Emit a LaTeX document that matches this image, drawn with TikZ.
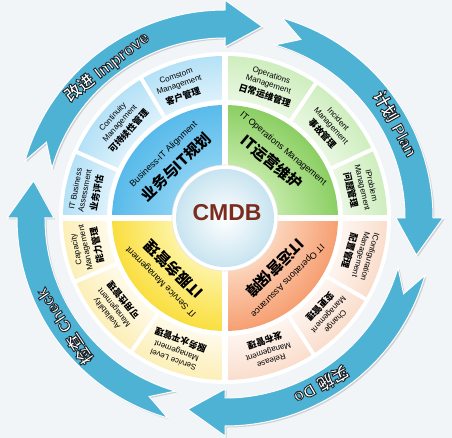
\documentclass[tikz,border=0pt]{standalone}
\usepackage{fontspec}
\setmainfont{Liberation Sans}
\newfontfamily\cjk{Noto Sans CJK SC}
\usetikzlibrary{shadows}

\definecolor{pagebg}{RGB}{242,245,248}
\definecolor{pdcablue}{RGB}{78,178,212}
\definecolor{cmdbred}{RGB}{122,44,30}
\definecolor{circlein}{RGB}{200,228,240}
% quarter colours: inner / outer
\definecolor{tlin}{RGB}{140,210,243}
\definecolor{tlout}{RGB}{88,186,234}
\definecolor{trin}{RGB}{196,234,168}
\definecolor{trout}{RGB}{138,206,98}
\definecolor{brin}{RGB}{252,214,190}
\definecolor{brout}{RGB}{246,158,112}
\definecolor{blin}{RGB}{253,244,168}
\definecolor{blout}{RGB}{250,222,62}
% small segments
\definecolor{tlsub}{RGB}{178,224,246}
\definecolor{trsub}{RGB}{205,237,188}
\definecolor{brsub}{RGB}{250,220,202}
\definecolor{blsub}{RGB}{252,238,180}

\colorlet{qin}{white}
\colorlet{qout}{white}
\pgfdeclareradialshading[qin,qout]{quadshade}{\pgfpointorigin}{color(0bp)=(qin); color(11bp)=(qin); color(25bp)=(qout); color(50bp)=(qout)}
\pgfdeclareradialshading[qin,qout]{ringshade}{\pgfpointorigin}{color(0bp)=(qin); color(17.9bp)=(qin); color(25bp)=(qout); color(50bp)=(qout)}

\newcommand\zhsmall[1]{{\cjk\bfseries\fontsize{9}{10}\selectfont #1}}
\newcommand\zhbig[1]{{\cjk\bfseries\fontsize{15}{17}\selectfont #1}}
\newcommand\zhpdca[1]{{\cjk\bfseries #1}}
\newcommand\outlinetext[1]{\special{pdf:literal direct 2 Tr 0.9 w 0.12 0.14 0.16 RG}#1\special{pdf:literal direct 0 Tr}}

\begin{document}
\begin{tikzpicture}[x=1pt, y=1pt,
% common options for the text in the small segments:
sublabel/.style = {align=center, inner sep=0, font=\fontsize{8}{9.5}\selectfont},
% common options for the text in the four quarters:
quarterlabel/.style = {align=center, inner sep=0, font=\fontsize{9}{11}\selectfont},
% common options for the PDCA arrows:
pdcaarrow/.style = {fill=pdcablue, draw=white, line width=1,
            drop shadow={shadow xshift=1.5pt, shadow yshift=-1.5pt, opacity=0.3}},
pdcalabel/.style = {inner sep=0, text=white, font=\bfseries\fontsize{16.5}{18}\selectfont},
gapline/.style = {draw=white, line cap=butt}]
\useasboundingbox (-225,-220) rectangle (227,218);
\fill[pagebg] (-225,-220) rectangle (227,218);

% PDCA arrows
\draw[pdcaarrow] (74:208) arc[start angle=74, end angle=0, radius=208] -- (0:218) -- (-11:195) -- (0:171) -- (0:180) arc[start angle=0, end angle=74, radius=180] -- (67:194) -- cycle;
\draw[pdcaarrow] (-16:208) arc[start angle=-16, end angle=-90, radius=208] -- (-90:218) -- (-101:195) -- (-90:171) -- (-90:180) arc[start angle=-90, end angle=-16, radius=180] -- (-23:194) -- cycle;
\draw[pdcaarrow] (254:208) arc[start angle=254, end angle=180, radius=208] -- (180:218) -- (169:195) -- (180:171) -- (180:180) arc[start angle=180, end angle=254, radius=180] -- (247:194) -- cycle;
\draw[pdcaarrow] (164:208) arc[start angle=164, end angle=90, radius=208] -- (90:218) -- (79:195) -- (90:171) -- (90:180) arc[start angle=90, end angle=164, radius=180] -- (157:194) -- cycle;

\node[pdcalabel, rotate=38] (improve) at (128:192) {\outlinetext{\zhpdca{改进} Improve}};
\node[pdcalabel, rotate=-61] (plan) at (29:195) {\outlinetext{\zhpdca{计划} Plan}};
\node[pdcalabel, rotate=-150] (do) at (-60:193) {\outlinetext{\zhpdca{实施} Do}};
\node[pdcalabel, rotate=124] (check) at (214:194) {\outlinetext{\zhpdca{检查} Check}};

\fill[white] (0,0) circle (166);

% four quarters
\begin{scope}
\clip (0,0) -- (90:113) arc[start angle=90, end angle=180, radius=113] -- cycle;
\colorlet{qin}{tlin}\colorlet{qout}{tlout}
\shade[shading=quadshade] (0,0) circle (114);
\end{scope}
\begin{scope}
\clip (0,0) -- (0:113) arc[start angle=0, end angle=90, radius=113] -- cycle;
\colorlet{qin}{trin}\colorlet{qout}{trout}
\shade[shading=quadshade] (0,0) circle (114);
\end{scope}
\begin{scope}
\clip (0,0) -- (-90:113) arc[start angle=-90, end angle=0, radius=113] -- cycle;
\colorlet{qin}{brin}\colorlet{qout}{brout}
\shade[shading=quadshade] (0,0) circle (114);
\end{scope}
\begin{scope}
\clip (0,0) -- (180:113) arc[start angle=180, end angle=270, radius=113] -- cycle;
\colorlet{qin}{blin}\colorlet{qout}{blout}
\shade[shading=quadshade] (0,0) circle (114);
\end{scope}

% outer ring of small segments
\begin{scope}
\clip (90:118) -- (90:162) arc[start angle=90, end angle=180, radius=162] -- (180:118) arc[start angle=180, end angle=90, radius=118] -- cycle;
\colorlet{qin}{tlsub!45!white}\colorlet{qout}{tlsub}
\shade[shading=ringshade] (0,0) circle (165);
\end{scope}
\begin{scope}
\clip (0:118) -- (0:162) arc[start angle=0, end angle=90, radius=162] -- (90:118) arc[start angle=90, end angle=0, radius=118] -- cycle;
\colorlet{qin}{trsub!45!white}\colorlet{qout}{trsub}
\shade[shading=ringshade] (0,0) circle (165);
\end{scope}
\begin{scope}
\clip (-90:118) -- (-90:162) arc[start angle=-90, end angle=0, radius=162] -- (0:118) arc[start angle=0, end angle=-90, radius=118] -- cycle;
\colorlet{qin}{brsub!30!white}\colorlet{qout}{brsub}
\shade[shading=ringshade] (0,0) circle (165);
\end{scope}
\begin{scope}
\clip (180:118) -- (180:162) arc[start angle=180, end angle=270, radius=162] -- (270:118) arc[start angle=270, end angle=180, radius=118] -- cycle;
\colorlet{qin}{blsub!30!white}\colorlet{qout}{blsub}
\shade[shading=ringshade] (0,0) circle (165);
\end{scope}

% white gaps
\draw[gapline, line width=6] (-166,0) -- (166,0) (0,-166) -- (0,166);
\draw[gapline, line width=4] (121:116) -- (121:164) (156:116) -- (156:164)
  (56:116) -- (56:164) (25:116) -- (25:164) (-30:116) -- (-30:164)
  (-57:116) -- (-57:164) (203:116) -- (203:164) (235:116) -- (235:164);

% centre
\fill[white] (0,0) circle (53);
\draw[black!10, line width=0.6] (0,0) circle (53);
\shade[inner color=white, outer color=circlein] (0,0) circle (49);
\node[font=\bfseries\fontsize{23}{23}\selectfont, text=cmdbred] (cmdb) at (2,5) {CMDB};

% quarter labels
\node[quarterlabel, rotate=44] (alignment) at (134:78) {Business-IT Alignment\\[5pt]\zhbig{业务与IT规划}};
\node[quarterlabel, rotate=-40] (itops) at (50:80) {IT Operations Management\\[5pt]\zhbig{IT运营维护}};
\node[quarterlabel, rotate=-135] (assurance) at (-45:78) {IT Operations Assurance\\[5pt]\zhbig{IT运营保障}};
\node[quarterlabel, rotate=135] (itservice) at (225:80) {IT Service Management\\[5pt]\zhbig{IT服务管理}};

% segment labels
\node[sublabel, rotate=19] (custom) at (109:139) {Comstom\\Management\\[3pt]\zhsmall{客户管理}};
\node[sublabel, rotate=48] (continuity) at (138:140) {Continuity\\Management\\[3pt]\zhsmall{可持续性管理}};
\node[sublabel, rotate=79] (bizassess) at (169:141) {IT Business\\Assessment\\[3pt]\zhsmall{业务评估}};
\node[sublabel, rotate=-18] (operations) at (72:139) {Operations\\Management\\[3pt]\zhsmall{日常运维管理}};
\node[sublabel, rotate=-48] (incident) at (41:139) {Incident\\Management\\[3pt]\zhsmall{事故管理}};
\node[sublabel, rotate=-77] (problem) at (12.5:139) {IProblem\\Management\\[3pt]\zhsmall{问题管理}};
\node[sublabel, rotate=-106] (config) at (-15:139) {IConfiguration\\Management\\[3pt]\zhsmall{配置管理}};
\node[sublabel, rotate=-133] (change) at (-43:140) {Change\\Management\\[3pt]\zhsmall{变更管理}};
\node[sublabel, rotate=-162] (release) at (-72:139) {Release\\Management\\[3pt]\zhsmall{发布管理}};
\node[sublabel, rotate=102] (capacity) at (192:141) {Capacity\\Management\\[3pt]\zhsmall{能力管理}};
\node[sublabel, rotate=129] (availability) at (219:141) {Availability\\Management\\[3pt]\zhsmall{可用性管理}};
\node[sublabel, rotate=160] (servicelevel) at (250:140) {Service Level\\Management\\[3pt]\zhsmall{服务水平管理}};
\end{tikzpicture}
\end{document}
